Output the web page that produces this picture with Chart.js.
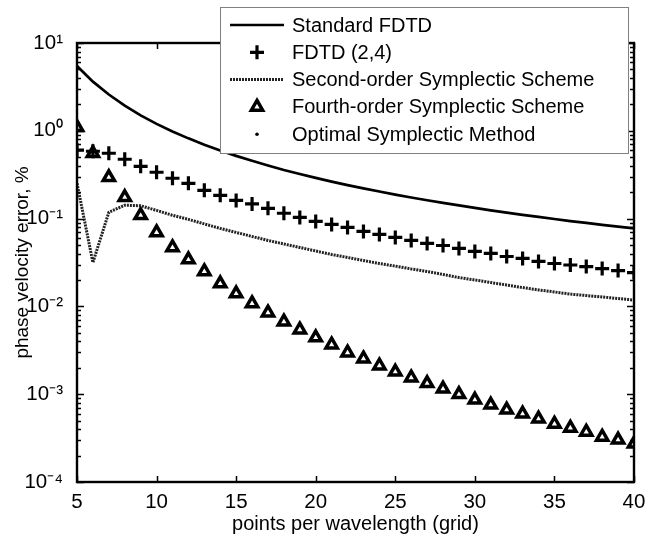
<!DOCTYPE html>
<html>
<head>
<meta charset="utf-8">
<script src="https://cdn.jsdelivr.net/npm/chart.js@4/dist/chart.umd.min.js"></script>
<style>
html,body{margin:0;padding:0;background:#fff;}
#wrap{width:645px;height:542px;position:relative;}
</style>
</head>
<body>
<div id="wrap"><canvas id="c" width="645" height="542"></canvas></div>
<script>
// ---------------- data ----------------
const pointsPerWavelength = [5,6,7,8,9,10,11,12,13,14,15,16,17,18,19,20,21,22,23,24,25,26,27,28,29,30,31,32,33,34,35,36,37,38,39,40];

const standardFDTD = [5.46,3.63,2.59,1.94,1.50,1.20,0.983,0.820,0.695,0.596,0.518,0.455,0.402,0.358,0.322,0.2906,0.264,0.2408,0.2207,0.2033,0.1877,0.1740,0.1618,0.1510,0.1412,0.1322,0.1243,0.1171,0.1105,0.1044,0.0989,0.0938,0.0892,0.0849,0.0809,0.0772];

const fdtd24 = [0.601,0.585,0.555,0.474,0.394,0.337,0.288,0.252,0.210,0.184,0.161,0.147,0.131,0.115,0.103,0.0929,0.0859,0.0794,0.0714,0.0660,0.0610,0.0564,0.0521,0.0494,0.0457,0.0423,0.0401,0.0370,0.0352,0.0325,0.0308,0.0296,0.0284,0.0270,0.0256,0.0243];

const secondOrderSymplectic = [0.252,0.0316,0.118,0.142,0.140,0.124,0.109,0.098,0.087,0.0773,0.0696,0.0626,0.0564,0.0514,0.0469,0.0428,0.0390,0.0361,0.0333,0.0308,0.0288,0.0267,0.0250,0.0231,0.0213,0.0200,0.0187,0.0175,0.0164,0.0154,0.0146,0.0138,0.0133,0.0128,0.0123,0.0118];

const fourthOrderSymplectic = [1.10,0.555,0.295,0.175,0.109,0.0696,0.0469,0.0342,0.0250,0.0182,0.0140,0.0108,0.00849,0.00670,0.00543,0.00441,0.00366,0.00297,0.00254,0.00211,0.00180,0.00154,0.00133,0.00115,0.000997,0.000863,0.000757,0.000664,0.000597,0.000524,0.000459,0.000413,0.000372,0.000326,0.000302,0.000272];

const optimalSymplectic = [];   // no visible marks in the plotted range

const xTicks = [5,10,15,20,25,30,35,40];
const yTicks = [1e-4,1e-3,1e-2,1e-1,1,10];
const yTickExponents = ['-4','-3','-2','-1','0','1'];

const seriesLabels = ['Standard FDTD','FDTD (2,4)','Second-order Symplectic Scheme','Fourth-order Symplectic Scheme','Optimal Symplectic Method'];
const xTitle = 'points per wavelength (grid)';
const yTitle = 'phase velocity error, %';

// ---------------- chart ----------------
const FONT = 'Arial, "Liberation Sans", Helvetica, sans-serif';
Chart.defaults.font.family = FONT;
Chart.defaults.color = '#000';

const sup = {'-':'\u207B','0':'\u2070','1':'\u00B9','2':'\u00B2','3':'\u00B3','4':'\u2074'};
function toSup(s){ return s.split('').map(ch => sup[ch] || ch).join(''); }

function pairs(ys){ return pointsPerWavelength.slice(0, ys.length).map((x,i)=>({x:x, y:ys[i]})); }

const framePlugin = {
  id: 'frame',
  afterDatasetsDraw(chart){
    const {ctx, chartArea:a, scales:{x, y}} = chart;
    ctx.save();
    ctx.strokeStyle = '#000';
    ctx.lineWidth = 1.5;
    xTicks.forEach(v => {
      const px = Math.round(x.getPixelForValue(v)) + 0.5;
      ctx.beginPath();
      ctx.moveTo(px, a.bottom); ctx.lineTo(px, a.bottom - 6);
      ctx.moveTo(px, a.top); ctx.lineTo(px, a.top + 6);
      ctx.stroke();
    });
    for (let d = -4; d <= 1; d++) {
      for (let k = 1; k <= 9; k++) {
        const v = k * Math.pow(10, d);
        if (v > 10 * 1.0001) break;
        const py = Math.round(y.getPixelForValue(v)) + 0.5;
        const len = (k === 1) ? 7 : 4;
        ctx.beginPath();
        ctx.moveTo(a.left, py); ctx.lineTo(a.left + len, py);
        ctx.moveTo(a.right, py); ctx.lineTo(a.right - len, py);
        ctx.stroke();
      }
    }
    ctx.lineWidth = 2.4;
    ctx.strokeRect(a.left, a.top, a.right - a.left, a.bottom - a.top);
    ctx.restore();
  }
};

const legendPlugin = {
  id: 'customLegend',
  afterDraw(chart){
    const ctx = chart.ctx;
    const bx = 220, by = 7, bw = 408, bh = 146;
    ctx.save();
    ctx.fillStyle = '#fff';
    ctx.fillRect(bx, by, bw, bh);
    ctx.strokeStyle = '#808080';
    ctx.lineWidth = 1;
    ctx.strokeRect(bx + 0.5, by + 0.5, bw, bh);
    chart.data.datasets.forEach((ds, i) => {
      const yy = 25 + 27.3 * i;
      if (ds.showLine) {
        ctx.beginPath();
        ctx.setLineDash(ds.borderDash || []);
        ctx.lineWidth = ds.borderWidth;
        ctx.strokeStyle = ds.borderColor;
        ctx.moveTo(230, yy); ctx.lineTo(284, yy);
        ctx.stroke();
        ctx.setLineDash([]);
      } else {
        ctx.fillStyle = ds.pointBackgroundColor || '#000';
        ctx.strokeStyle = ds.pointBorderColor || '#000';
        ctx.lineWidth = ds.pointBorderWidth;
        Chart.helpers.drawPoint(ctx, {pointStyle: ds.pointStyle, radius: ds.pointRadius, borderWidth: ds.pointBorderWidth, rotation: 0}, 257, yy);
      }
      ctx.fillStyle = '#000';
      ctx.font = '20px ' + FONT;
      ctx.textBaseline = 'middle';
      ctx.textAlign = 'left';
      ctx.fillText(ds.label, 292, yy + 1);
    });
    ctx.restore();
  }
};

new Chart(document.getElementById('c'), {
  type: 'scatter',
  data: {
    datasets: [
      { label: seriesLabels[0], data: pairs(standardFDTD), showLine: true, borderColor: '#000', borderWidth: 2.7, pointRadius: 0, tension: 0 },
      { label: seriesLabels[1], data: pairs(fdtd24), showLine: false, pointStyle: 'cross', pointRadius: 7, pointBorderWidth: 3.2, pointBorderColor: '#000', pointBackgroundColor: '#000', borderColor: '#000' },
      { label: seriesLabels[2], data: pairs(secondOrderSymplectic), showLine: true, borderColor: '#222', borderWidth: 3, borderDash: [2,1], pointRadius: 0, tension: 0 },
      { label: seriesLabels[3], data: pairs(fourthOrderSymplectic), showLine: false, pointStyle: 'triangle', pointRadius: 6.5, pointBorderWidth: 3.5, pointBorderColor: '#000', pointBackgroundColor: '#fff', borderColor: '#000' },
      { label: seriesLabels[4], data: pairs(optimalSymplectic), showLine: false, pointStyle: 'circle', pointRadius: 1.8, pointBorderWidth: 0, pointBorderColor: '#000', pointBackgroundColor: '#000', borderColor: '#000' }
    ]
  },
  options: {
    responsive: false,
    animation: false,
    devicePixelRatio: 1,
    layout: { padding: { top: 43, right: 11, left: 0, bottom: 0 } },
    plugins: { legend: { display: false }, tooltip: { enabled: false } },
    scales: {
      x: {
        type: 'linear', min: 5, max: 40,
        afterBuildTicks: s => { s.ticks = xTicks.map(v => ({value: v})); },
        ticks: { font: { size: 20.5 }, padding: 0, maxRotation: 0, color: '#000' },
        grid: { display: false },
        border: { display: false },
        title: { display: true, text: xTitle, font: { size: 20 }, color: '#000', padding: { top: 0, bottom: 6 } },
        afterFit: s => { s.height = 60; s.paddingLeft = 0; s.paddingRight = 0; }
      },
      y: {
        type: 'logarithmic', min: 1e-4, max: 10,
        afterBuildTicks: s => { s.ticks = yTicks.map(v => ({value: v})); },
        ticks: { font: { size: 20.5 }, padding: 6, color: '#000',
          callback: (v) => { const i = yTicks.findIndex(t => Math.abs(t - v) / t < 1e-6); return i >= 0 ? '10' + toSup(yTickExponents[i]) : ''; } },
        grid: { display: false },
        border: { display: false },
        title: { display: true, text: yTitle, font: { size: 19 }, color: '#000', padding: { top: 11, bottom: 0 } },
        afterFit: s => { s.width = 77; s.paddingTop = 0; s.paddingBottom = 0; }
      }
    }
  },
  plugins: [framePlugin, legendPlugin]
});
</script>
</body>
</html>
